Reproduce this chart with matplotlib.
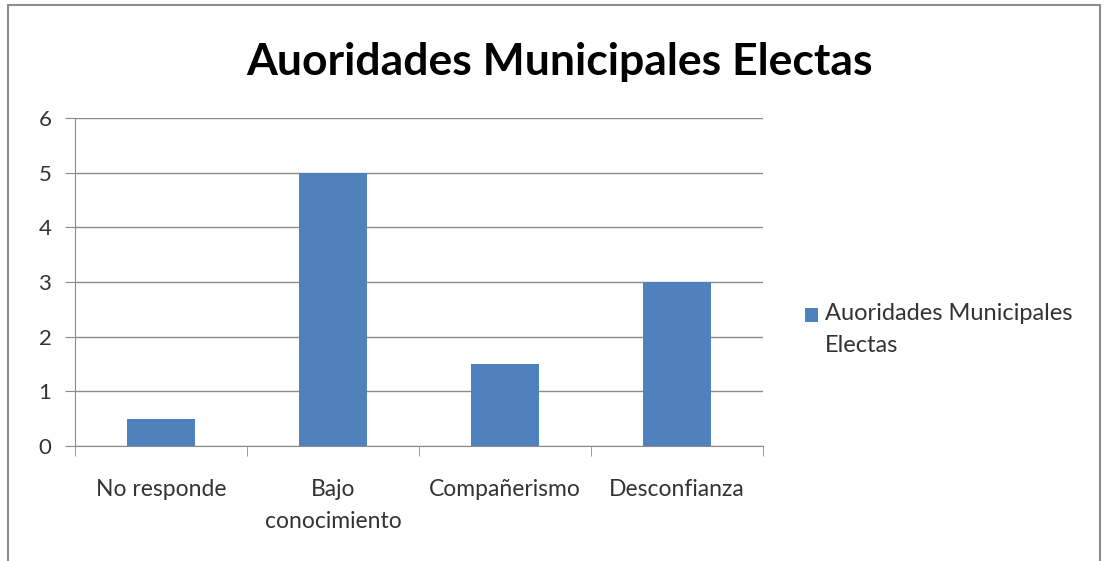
import matplotlib
matplotlib.use("Agg")
import matplotlib.pyplot as plt
from matplotlib.patches import Rectangle
from matplotlib.legend_handler import HandlerPatch

categories = ["No responde", "Bajo\nconocimiento", "Compañerismo", "Desconfianza"]
values = [0.5, 5, 1.5, 3]
series_name = "Auoridades Municipales\nElectas"
title = "Auoridades Municipales Electas"
yticks = [0, 1, 2, 3, 4, 5, 6]

W, H = 1106, 561
fig = plt.figure(figsize=(W / 100, H / 100), dpi=100)
plt.rcParams['font.family'] = ['Lato', 'DejaVu Sans']

# outer chart border
fig.patches.append(Rectangle((8 / W, -0.01), (1100 - 8) / W, (H - 5) / H + 0.01,
                             transform=fig.transFigure, fill=False,
                             edgecolor='#8c8c8c', linewidth=1.5))

left, right = 75, 763
top, bottom = 118, 446
ax = fig.add_axes([left / W, 1 - bottom / H, (right - left) / W, (bottom - top) / H])

x = range(len(categories))
color = '#4f81bd'
bars = ax.bar(x, values, width=0.4, color=color, zorder=3, label=series_name)

ax.set_xlim(-0.5, len(categories) - 0.5)
ax.set_ylim(0, 6)
ax.set_yticks(yticks)
ax.set_yticklabels([str(t) for t in yticks], fontsize=16, color='#333333')
ax.yaxis.grid(True, color='#8c8c8c', linewidth=1, zorder=0)
ax.tick_params(axis='y', length=7, color='#8c8c8c', pad=10)

ax.set_xticks(list(x))
ax.set_xticklabels(categories, fontsize=16.5, color='#333333', linespacing=1.6)
ax.tick_params(axis='x', length=0, pad=24)
ax.set_xticks([i - 0.5 for i in range(len(categories) + 1)], minor=True)
ax.tick_params(axis='x', which='minor', length=7, color='#8c8c8c', direction='out')

for s in ['top', 'right']:
    ax.spines[s].set_visible(False)
ax.spines['left'].set_color('#8c8c8c')
ax.spines['bottom'].set_color('#8c8c8c')

fig.text(560 / W, 1 - 62 / H, title, ha='center', va='center',
         fontsize=32, fontweight='bold', color='black')


def raised_square(legend, orig_handle, xdescent, ydescent, width, height, fontsize):
    # align the legend key with the first line of the two-line label
    return Rectangle((-xdescent, -ydescent + 11), width, height)


key = bars.patches[0]
leg = fig.legend(handles=[key], labels=[series_name],
                 loc='upper left', bbox_to_anchor=(784 / W, 1 - 282 / H),
                 frameon=False, fontsize=17, handlelength=0.55, handleheight=0.55,
                 handletextpad=0.3, labelspacing=0.3,
                 handler_map={key: HandlerPatch(patch_func=raised_square)})
for t in leg.get_texts():
    t.set_color('#333333')
    t.set_linespacing(1.65)

fig.savefig("out.png", dpi=100)
